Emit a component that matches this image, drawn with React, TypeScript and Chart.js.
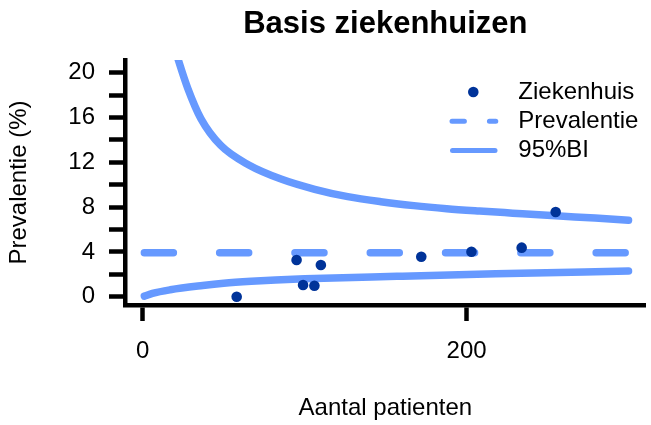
import React, { useEffect, useRef } from 'react';
import { Chart, registerables } from 'chart.js';

Chart.register(...registerables);

// ---- data ----
const hospitalN = [58, 95, 99, 106, 110, 172, 203, 234, 255];
const hospitalPct = [0, 3.28, 1.04, 0.98, 2.83, 3.57, 4.02, 4.38, 7.56];

const prevalenceN = [1, 300];
const prevalencePct = [3.93, 3.93];

const upperN = [19, 22.3, 27.8, 35.9, 48.2, 65.5, 85.8, 106.2, 126.6, 147, 167.4, 187.7, 208, 228.5, 255, 279.4, 300];
const upperPct = [22.6, 20.98, 18.6, 15.9, 13.5, 11.76, 10.48, 9.59, 8.93, 8.48, 8.13, 7.86, 7.65, 7.46, 7.22, 7.02, 6.83];

const lowerN = [1, 6, 17, 37, 50, 67, 82, 100, 157, 218, 300];
const lowerPct = [0.05, 0.3, 0.62, 1.0, 1.2, 1.38, 1.5, 1.6, 1.82, 2.04, 2.29];

const xTickValues = [0, 200];
const xTickLabels = ['0', '200'];
const yTickValues = [0, 2, 4, 6, 8, 10, 12, 14, 16, 18, 20];
const yTickLabels = ['0', '', '4', '', '8', '', '12', '', '16', '', '20'];

const legendLabels = ['Ziekenhuis', 'Prevalentie', '95%BI'];
const titleText = 'Basis ziekenhuizen';
const xTitle = 'Aantal patienten';
const yTitle = 'Prevalentie (%)';

const FONT = '"Liberation Sans", Arial, Helvetica, sans-serif';
const LIGHT = '#6699ff';
const DARK = '#003399';

const toXY = (xs: number[], ys: number[]) => xs.map((x, i) => ({ x, y: ys[i] }));

const legendPlugin = {
  id: 'rLegend',
  afterDraw(chart: any) {
    const ctx = chart.ctx as CanvasRenderingContext2D;
    const rows = [92, 121.3, 150.5];
    ctx.save();
    ctx.fillStyle = DARK;
    ctx.beginPath();
    ctx.arc(473.3, rows[0], 5.3, 0, Math.PI * 2);
    ctx.fill();
    ctx.strokeStyle = LIGHT;
    ctx.lineWidth = 5;
    ctx.lineCap = 'round';
    ctx.setLineDash([12.4, 25]);
    ctx.beginPath();
    ctx.moveTo(452, rows[1]);
    ctx.lineTo(495.8, rows[1]);
    ctx.stroke();
    ctx.setLineDash([]);
    ctx.beginPath();
    ctx.moveTo(452.5, rows[2]);
    ctx.lineTo(495, rows[2]);
    ctx.stroke();
    ctx.fillStyle = '#000';
    ctx.font = `24px ${FONT}`;
    ctx.textBaseline = 'middle';
    ctx.textAlign = 'left';
    legendLabels.forEach((t, i) => ctx.fillText(t, 518.3, rows[i]));
    ctx.restore();
  },
};

export default function App() {
  const ref = useRef<HTMLCanvasElement>(null);

  useEffect(() => {
    document.body.style.margin = '0';
    Chart.defaults.font.family = FONT;
    Chart.defaults.color = '#000';
    const lineCommon = {
      type: 'scatter' as const,
      showLine: true,
      borderColor: LIGHT,
      backgroundColor: LIGHT,
      borderWidth: 7.5,
      borderCapStyle: 'round' as const,
      borderJoinStyle: 'round' as const,
      pointRadius: 0,
      pointHoverRadius: 0,
      clip: 0,
    };
    const chart = new Chart(ref.current as HTMLCanvasElement, {
      type: 'scatter',
      data: {
        datasets: [
          {
            label: legendLabels[0],
            data: toXY(hospitalN, hospitalPct),
            showLine: false,
            pointRadius: 5.3,
            pointBackgroundColor: DARK,
            pointBorderWidth: 0,
            pointBorderColor: DARK,
            backgroundColor: DARK,
          },
          {
            ...lineCommon,
            label: legendLabels[1],
            data: toXY(prevalenceN, prevalencePct),
            borderDash: [29, 46.3],
          },
          {
            ...lineCommon,
            label: legendLabels[2],
            data: toXY(upperN, upperPct),
            cubicInterpolationMode: 'monotone',
          },
          {
            ...lineCommon,
            label: legendLabels[2] + ' onder',
            data: toXY(lowerN, lowerPct),
            cubicInterpolationMode: 'monotone',
          },
        ] as any,
      },
      options: {
        responsive: false,
        animation: false,
        devicePixelRatio: 1,
        layout: { padding: 0 },
        events: [],
        plugins: {
          legend: { display: false },
          tooltip: { enabled: false },
          title: {
            display: true,
            text: titleText,
            fullSize: false,
            color: '#000',
            font: { family: FONT, size: 31, weight: 'bold', lineHeight: 1.2 },
            padding: { top: 5.9, bottom: 16.9 },
          },
        },
        scales: {
          x: {
            type: 'linear',
            min: -10.96,
            max: 310.6,
            afterBuildTicks: (s: any) => {
              s.ticks = xTickValues.map((v) => ({ value: v }));
            },
            afterFit: (s: any) => {
              s.height = 120;
            },
            ticks: {
              autoSkip: false,
              maxRotation: 0,
              padding: 16.3,
              color: '#000',
              font: { family: FONT, size: 24 },
              callback: (_v: any, i: number) => xTickLabels[i],
            },
            grid: {
              display: true,
              drawOnChartArea: false,
              drawTicks: true,
              tickLength: 16,
              tickWidth: 4.5,
              tickColor: '#000',
              color: '#000',
            },
            border: { display: true, color: '#000', width: 4.5 },
            title: {
              display: true,
              text: xTitle,
              color: '#000',
              font: { family: FONT, size: 24, lineHeight: 1.2 },
              padding: { top: 0, bottom: 1.9 },
            },
          },
          y: {
            type: 'linear',
            min: -0.74,
            max: 21.13,
            afterBuildTicks: (s: any) => {
              s.ticks = yTickValues.map((v) => ({ value: v }));
            },
            afterFit: (s: any) => {
              s.width = 125;
            },
            ticks: {
              autoSkip: false,
              padding: 14,
              color: '#000',
              font: { family: FONT, size: 24 },
              callback: (_v: any, i: number) => yTickLabels[i],
            },
            grid: {
              display: true,
              drawOnChartArea: false,
              drawTicks: true,
              tickLength: 16,
              tickWidth: 4.5,
              tickColor: '#000',
              color: '#000',
            },
            border: { display: true, color: '#000', width: 4.5 },
            title: {
              display: true,
              text: yTitle,
              color: '#000',
              font: { family: FONT, size: 24, lineHeight: 1.2 },
              padding: { top: 5.3, bottom: 0 },
            },
          },
        },
      } as any,
      plugins: [legendPlugin],
    });
    return () => chart.destroy();
  }, []);

  return (
    <div style={{ width: 651, height: 425 }}>
      <canvas ref={ref} width={651} height={425} style={{ display: 'block', width: 651, height: 425 }} />
    </div>
  );
}
